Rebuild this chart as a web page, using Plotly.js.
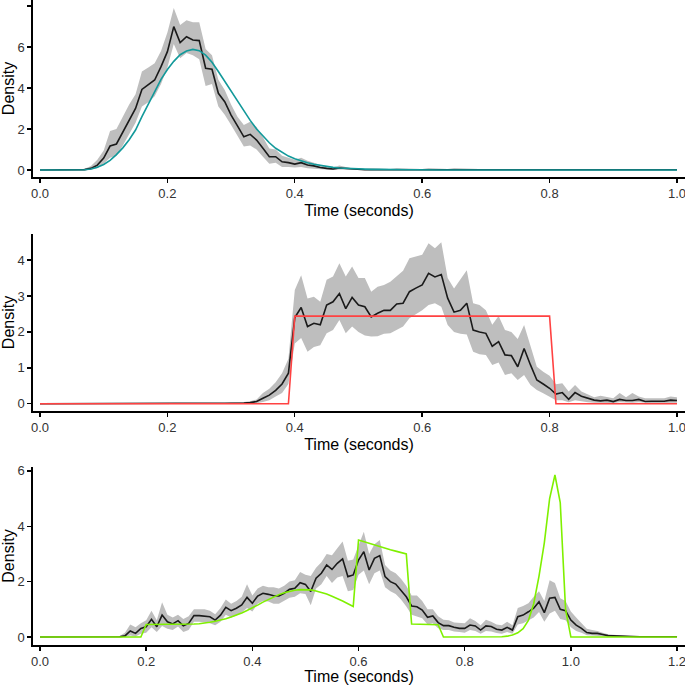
<!DOCTYPE html>
<html>
<head>
<meta charset="utf-8">
<script src="https://cdn.plot.ly/plotly-3.0.1.min.js"></script>
<style>
  html, body { margin: 0; padding: 0; background: #fff; }
  #chart { width: 685px; height: 685px; }
</style>
</head>
<body>
<div id="chart"></div>
<script>
// time grid used by every panel (bin positions, 0.01 s apart)
function seq(from, to, step) {
  let out = [];
  let n = Math.round((to - from) / step);
  for (let i = 0; i <= n; i++) out.push(+(from + i * step).toFixed(2));
  return out;
}
const time1 = seq(0, 1.0, 0.01);
const time2 = seq(0, 1.0, 0.01);
const time3 = seq(0, 1.2, 0.01);

/* panel 1: empirical density, its band, and the fitted curve (teal) */
const mean1 = [
  0, 0, 0, 0, 0, 0, 0.01, 0.02, 0.08, 0.24,
  0.58, 1.17, 1.27, 1.87, 2.44, 3.0, 3.93, 4.15, 4.39, 5.04,
  5.77, 6.99, 6.21, 6.5, 6.34, 6.31, 4.96, 4.91, 3.74, 3.33,
  2.68, 2.15, 1.62, 1.74, 1.46, 1.06, 0.65, 0.65, 0.4, 0.36,
  0.29, 0.36, 0.24, 0.2, 0.12, 0.08, 0.05, 0.1, 0.08, 0.03,
  0.02, 0.01, 0.02, 0.01, 0.01, 0.01, 0.02, 0.01, 0.01, 0.01,
  0.01, 0.02, 0.01, 0.01, 0.01, 0.02, 0.01, 0.01, 0.01, 0.01,
  0.01, 0.01, 0.02, 0.01, 0.01, 0.01, 0.01, 0.02, 0.01, 0.01,
  0.01, 0.01, 0.01, 0.01, 0.01, 0.01, 0.01, 0.01, 0.01, 0.01,
  0.01, 0.01, 0.01, 0.01, 0.01, 0.01, 0.01, 0.01, 0.01, 0.01,
  0.01
];
const upper1 = [
  0, 0, 0, 0, 0, 0, 0.03, 0.06, 0.2, 0.5,
  0.95, 1.9, 2.0, 2.6, 3.2, 3.7, 4.8, 5.0, 5.2, 5.8,
  6.7, 7.9, 7.07, 7.3, 7.2, 7.2, 5.9, 5.6, 4.4, 3.9,
  3.2, 2.6, 2.2, 2.35, 2.1, 1.6, 1.05, 1.0, 0.7, 0.6,
  0.5, 0.6, 0.45, 0.35, 0.25, 0.15, 0.12, 0.22, 0.15, 0.08,
  0.05, 0.04, 0.06, 0.04, 0.04, 0.04, 0.05, 0.04, 0.04, 0.04,
  0.04, 0.05, 0.04, 0.04, 0.04, 0.05, 0.04, 0.04, 0.04, 0.04,
  0.04, 0.04, 0.05, 0.04, 0.04, 0.04, 0.04, 0.05, 0.04, 0.04,
  0.04, 0.04, 0.04, 0.04, 0.04, 0.04, 0.04, 0.04, 0.04, 0.04,
  0.04, 0.04, 0.04, 0.04, 0.04, 0.04, 0.04, 0.04, 0.04, 0.04,
  0.04
];
const lower1 = [
  0, 0, 0, 0, 0, 0, 0, 0, 0.01, 0.08,
  0.3, 0.6, 0.7, 1.2, 1.75, 2.3, 3.1, 3.3, 3.6, 4.2,
  5.0, 6.15, 5.45, 5.7, 5.6, 5.4, 4.1, 4.2, 3.1, 2.7,
  2.2, 1.7, 1.15, 1.2, 1.0, 0.65, 0.3, 0.35, 0.15, 0.15,
  0.12, 0.15, 0.08, 0.06, 0.03, 0.01, 0, 0.02, 0.01, 0,
  0, 0, 0, 0, 0, 0, 0, 0, 0, 0,
  0, 0, 0, 0, 0, 0, 0, 0, 0, 0,
  0, 0, 0, 0, 0, 0, 0, 0, 0, 0,
  0, 0, 0, 0, 0, 0, 0, 0, 0, 0,
  0, 0, 0, 0, 0, 0, 0, 0, 0, 0,
  0
];
const fit1 = [
  0, 0, 0, 0, 0, 0, 0, 0.01, 0.05, 0.13,
  0.27, 0.47, 0.75, 1.08, 1.48, 1.95, 2.6, 3.2, 3.85, 4.42,
  4.9, 5.3, 5.62, 5.8, 5.88, 5.82, 5.6, 5.25, 4.8, 4.33,
  3.85, 3.35, 2.87, 2.42, 2.0, 1.65, 1.33, 1.06, 0.85, 0.68,
  0.55, 0.44, 0.35, 0.28, 0.22, 0.17, 0.13, 0.1, 0.08, 0.06,
  0.05, 0.04, 0.03, 0.03, 0.02, 0.02, 0.01, 0.01, 0.01, 0.01,
  0, 0, 0, 0, 0, 0, 0, 0, 0, 0,
  0, 0, 0, 0, 0, 0, 0, 0, 0, 0,
  0, 0, 0, 0, 0, 0, 0, 0, 0, 0,
  0, 0, 0, 0, 0, 0, 0, 0, 0, 0,
  0
];

/* panel 2: uniform fit (red step) */
const mean2 = [
  0, 0, 0, 0, 0, 0, 0, 0, 0, 0,
  0, 0, 0, 0, 0, 0, 0, 0, 0, 0,
  0, 0, 0, 0, 0, 0, 0, 0, 0, 0.01,
  0.02, 0.02, 0.02, 0.03, 0.06, 0.15, 0.24, 0.37, 0.55, 0.85,
  2.4, 2.68, 2.15, 2.24, 2.2, 2.75, 2.84, 3.07, 2.65, 2.96,
  2.75, 2.7, 2.42, 2.52, 2.6, 2.6, 2.78, 2.8, 3.12, 3.22,
  3.31, 3.63, 3.53, 3.6, 2.94, 2.55, 2.6, 2.8, 2.05, 2.0,
  1.96, 1.6, 1.73, 1.36, 1.34, 1.03, 1.54, 1.08, 0.66, 0.55,
  0.43, 0.27, 0.31, 0.12, 0.31, 0.21, 0.15, 0.1, 0.08, 0.1,
  0.06, 0.12, 0.09, 0.09, 0.12, 0.06, 0.07, 0.07, 0.07, 0.1,
  0.09
];
const upper2 = [
  0, 0, 0, 0, 0, 0, 0, 0, 0, 0,
  0, 0, 0, 0, 0, 0, 0, 0, 0, 0,
  0, 0, 0, 0, 0, 0, 0, 0, 0.01, 0.02,
  0.04, 0.04, 0.05, 0.07, 0.12, 0.3, 0.42, 0.6, 0.85, 1.25,
  3.17, 3.58, 2.93, 2.98, 2.84, 3.45, 3.54, 3.91, 3.54, 3.82,
  3.5, 3.5, 3.12, 3.26, 3.31, 3.4, 3.54, 3.7, 4.05, 4.1,
  4.15, 4.47, 4.33, 4.5, 3.5, 3.21, 3.45, 3.72, 2.8, 2.75,
  2.6, 2.2, 2.44, 2.05, 2.0, 1.8, 2.19, 1.59, 1.03, 0.89,
  0.78, 0.54, 0.57, 0.34, 0.52, 0.34, 0.26, 0.18, 0.22, 0.18,
  0.15, 0.3, 0.18, 0.3, 0.2, 0.15, 0.15, 0.15, 0.15, 0.2,
  0.18
];
const lower2 = [
  0, 0, 0, 0, 0, 0, 0, 0, 0, 0,
  0, 0, 0, 0, 0, 0, 0, 0, 0, 0,
  0, 0, 0, 0, 0, 0, 0, 0, 0, 0,
  0, 0, 0, 0, 0.01, 0.05, 0.1, 0.2, 0.3, 0.55,
  1.68, 1.83, 1.45, 1.58, 1.63, 1.96, 2.05, 2.33, 1.96, 2.15,
  2.0, 1.9, 1.87, 1.88, 1.95, 1.96, 2.05, 2.15, 2.38, 2.49,
  2.6, 2.75, 2.8, 2.7, 2.19, 2.0, 1.95, 1.93, 1.45, 1.38,
  1.36, 1.08, 1.15, 0.8, 0.85, 0.66, 0.8, 0.52, 0.38, 0.29,
  0.2, 0.1, 0.1, 0.04, 0.1, 0.06, 0.04, 0.03, 0.02, 0.03,
  0.02, 0.04, 0.03, 0.03, 0.04, 0.02, 0.02, 0.02, 0.02, 0.03,
  0.03
];
const fitTime2 = [0, 0.39, 0.40, 0.80, 0.81, 1.0];
const fit2 = [0, 0, 2.44, 2.44, 0, 0];

/* panel 3: mixture fit (green) */
const mean3 = [
  0, 0, 0, 0, 0, 0, 0, 0, 0, 0,
  0, 0, 0, 0, 0, 0.01, 0.04, 0.22, 0.13, 0.31,
  0.37, 0.64, 0.37, 0.79, 0.55, 0.47, 0.59, 0.4, 0.49, 0.77,
  0.77, 0.76, 0.73, 0.61, 0.79, 1.07, 0.95, 1.04, 1.16, 1.43,
  1.22, 1.48, 1.58, 1.54, 1.49, 1.48, 1.58, 1.72, 1.76, 1.96,
  1.9, 1.64, 2.12, 2.3, 2.6, 2.44, 2.66, 2.82, 2.18, 2.24,
  2.78, 3.08, 2.42, 2.84, 2.94, 2.18, 2.0, 1.91, 1.7, 1.45,
  1.12, 1.09, 0.97, 0.71, 0.76, 0.52, 0.41, 0.41, 0.35, 0.31,
  0.31, 0.43, 0.4, 0.25, 0.4, 0.38, 0.28, 0.25, 0.35, 0.25,
  0.73, 0.79, 0.91, 1.04, 1.27, 0.88, 1.4, 1.43, 1.0, 0.95,
  0.61, 0.43, 0.31, 0.16, 0.13, 0.13, 0.09, 0.05, 0.04, 0.03,
  0.02, 0.02, 0.01, 0.01, 0.01, 0.01, 0.01, 0.01, 0.01, 0.01,
  0.01
];
const upper3 = [
  0, 0, 0, 0, 0, 0, 0, 0, 0, 0,
  0, 0, 0, 0, 0.02, 0.04, 0.15, 0.45, 0.35, 0.5,
  0.6, 0.95, 0.6, 1.25, 0.8, 0.7, 0.8, 0.65, 0.75, 1.0,
  1.0, 1.0, 0.95, 0.82, 1.05, 1.35, 1.2, 1.3, 1.45, 1.9,
  1.5, 1.75, 1.85, 1.8, 1.8, 1.75, 1.85, 2.0, 2.05, 2.35,
  2.25, 2.2, 2.5, 2.7, 3.0, 2.95, 3.2, 3.45, 2.75, 2.8,
  3.3, 3.8, 3.0, 3.35, 3.5, 2.6, 2.4, 2.3, 2.1, 1.85,
  1.5, 1.5, 1.3, 1.0, 1.0, 0.75, 0.62, 0.6, 0.52, 0.5,
  0.5, 0.68, 0.58, 0.42, 0.62, 0.55, 0.45, 0.42, 0.55, 0.42,
  1.05, 1.12, 1.22, 1.45, 1.65, 1.3, 2.05, 1.95, 1.4, 1.3,
  0.92, 0.7, 0.5, 0.3, 0.25, 0.22, 0.15, 0.1, 0.08, 0.06,
  0.05, 0.04, 0.03, 0.03, 0.02, 0.02, 0.02, 0.02, 0.02, 0.02,
  0.02
];
const lower3 = [
  0, 0, 0, 0, 0, 0, 0, 0, 0, 0,
  0, 0, 0, 0, 0, 0, 0, 0.05, 0.02, 0.12,
  0.15, 0.35, 0.18, 0.4, 0.3, 0.25, 0.38, 0.18, 0.25, 0.55,
  0.55, 0.52, 0.5, 0.42, 0.55, 0.8, 0.7, 0.78, 0.88, 1.05,
  0.92, 1.2, 1.3, 1.28, 1.2, 1.2, 1.3, 1.42, 1.45, 1.58,
  1.55, 1.15, 1.75, 1.9, 2.2, 1.95, 2.15, 2.2, 1.65, 1.7,
  2.25, 2.4, 1.9, 2.3, 2.4, 1.8, 1.65, 1.55, 1.35, 1.1,
  0.8, 0.75, 0.68, 0.45, 0.5, 0.32, 0.25, 0.25, 0.2, 0.18,
  0.15, 0.25, 0.22, 0.12, 0.22, 0.2, 0.14, 0.12, 0.18, 0.12,
  0.45, 0.5, 0.6, 0.7, 0.9, 0.55, 0.85, 0.95, 0.65, 0.6,
  0.35, 0.22, 0.15, 0.06, 0.05, 0.05, 0.03, 0.02, 0.01, 0.01,
  0, 0, 0, 0, 0, 0, 0, 0, 0, 0,
  0
];
const fit3 = [
  0, 0, 0, 0, 0, 0, 0, 0, 0, 0,
  0, 0, 0, 0, 0, 0, 0, 0, 0, 0,
  0.45, 0.45, 0.45, 0.45, 0.45, 0.45, 0.45, 0.45, 0.46, 0.47,
  0.48, 0.5, 0.53, 0.57, 0.61, 0.66, 0.72, 0.79, 0.87, 0.96,
  1.05, 1.15, 1.26, 1.36, 1.45, 1.53, 1.6, 1.65, 1.69, 1.71,
  1.71, 1.7, 1.66, 1.61, 1.55, 1.47, 1.39, 1.3, 1.2, 1.1,
  3.5, 3.44, 3.37, 3.31, 3.25, 3.2, 3.15, 3.1, 3.05, 3.0,
  0.47, 0.46, 0.46, 0.45, 0.45, 0.44, 0, 0, 0, 0,
  0, 0, 0, 0, 0, 0, 0, 0.01, 0.03, 0.07,
  0.15, 0.3, 0.6, 1.2, 2.2, 3.4, 5.0, 5.85, 4.85, 1.0,
  0, 0, 0, 0, 0, 0, 0, 0, 0, 0,
  0, 0, 0, 0, 0, 0, 0, 0, 0, 0,
  0
];

const xTicks1 = [0, 0.2, 0.4, 0.6, 0.8, 1.0];
const xTicks3 = [0, 0.2, 0.4, 0.6, 0.8, 1.0, 1.2];
const yTicks1 = [0, 2, 4, 6, 8];
const yTicks2 = [0, 1, 2, 3, 4];
const yTicks3 = [0, 2, 4, 6];

const bandColor = '#bebebe';
const meanColor = '#1a1a1a';
const fitColors = ['#12999a', '#ff4242', '#7ff000'];

function panelTraces(n, t, lo, hi, mean, fitT, fit, color) {
  let xa = n === 1 ? 'x' : 'x' + n;
  let ya = n === 1 ? 'y' : 'y' + n;
  return [
    { x: t, y: lo, xaxis: xa, yaxis: ya, mode: 'lines', line: { width: 0, color: bandColor },
      showlegend: false, hoverinfo: 'skip' },
    { x: t, y: hi, xaxis: xa, yaxis: ya, mode: 'lines', line: { width: 0, color: bandColor },
      fill: 'tonexty', fillcolor: bandColor, showlegend: false, hoverinfo: 'skip' },
    { x: t, y: mean, xaxis: xa, yaxis: ya, mode: 'lines', line: { width: 1.6, color: meanColor },
      showlegend: false },
    { x: fitT, y: fit, xaxis: xa, yaxis: ya, mode: 'lines', line: { width: 1.6, color: color },
      showlegend: false }
  ];
}

function xAxis(anchor, range, ticks) {
  return {
    anchor: anchor, domain: [0, 1], range: range,
    tickvals: ticks, ticktext: ticks.map(v => v.toFixed(1)),
    ticklabeloverflow: 'allow',
    showline: true, linecolor: '#000', linewidth: 1.6, mirror: false,
    ticks: 'outside', ticklen: 4, tickwidth: 1.4, tickcolor: '#000',
    showgrid: false, zeroline: false,
    tickfont: { family: 'Liberation Sans, Arial, sans-serif', size: 13, color: '#333' },
    title: { text: 'Time (seconds)', standoff: 4,
             font: { family: 'Liberation Sans, Arial, sans-serif', size: 16, color: '#000' } }
  };
}

function yAxis(anchor, domain, range, ticks) {
  return {
    anchor: anchor, domain: domain, range: range, tickvals: ticks,
    showline: true, linecolor: '#000', linewidth: 1.6,
    ticks: 'outside', ticklen: 4, tickwidth: 1.4, tickcolor: '#000',
    showgrid: false, zeroline: false,
    tickfont: { family: 'Liberation Sans, Arial, sans-serif', size: 13, color: '#333' },
    title: { text: 'Density', standoff: 2,
             font: { family: 'Liberation Sans, Arial, sans-serif', size: 16, color: '#000' } }
  };
}

function drawDensityPanels() {
  let data = [].concat(
    panelTraces(1, time1, lower1, upper1, mean1, time1, fit1, fitColors[0]),
    panelTraces(2, time2, lower2, upper2, mean2, fitTime2, fit2, fitColors[1]),
    panelTraces(3, time3, lower3, upper3, mean3, time3, fit3, fitColors[2])
  );

  let layout = {
    width: 685, height: 685,
    margin: { l: 33, r: 0, t: 0, b: 0 },
    paper_bgcolor: '#fff', plot_bgcolor: '#fff',
    showlegend: false,
    xaxis: xAxis('y', [-0.011, 1.0126], xTicks1),
    yaxis: yAxis('x', [0.7416, 1.0], [-0.341, 8.29], yTicks1),
    xaxis2: xAxis('y2', [-0.011, 1.0126], xTicks1),
    yaxis2: yAxis('x2', [0.4, 0.6584], [-0.203, 4.727], yTicks2),
    xaxis3: xAxis('y3', [-0.0132, 1.215], xTicks3),
    yaxis3: yAxis('x3', [0.0584, 0.3182], [-0.289, 6.137], yTicks3)
  };

  Plotly.newPlot('chart', data, layout, { staticPlot: true });
}

window.addEventListener('DOMContentLoaded', drawDensityPanels, false);
</script>
</body>
</html>
